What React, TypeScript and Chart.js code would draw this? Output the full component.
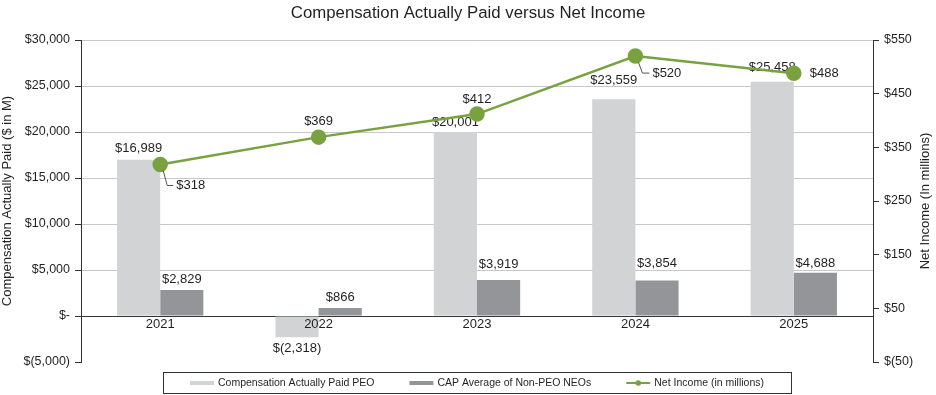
import { useEffect, useRef } from 'react';
import { Chart, registerables } from 'chart.js';

Chart.register(...registerables);

const categories = ['2021', '2022', '2023', '2024', '2025'];
const peoCap = [16989, -2318, 20001, 23559, 25458];
const neoCap = [2829, 866, 3919, 3854, 4688];
const netIncome = [318, 369, 412, 520, 488];

const leftMin = -5000;
const leftMax = 30000;
const leftStep = 5000;
const rightMin = -50;
const rightMax = 550;
const rightStep = 100;

const seriesNames = ['Compensation Actually Paid PEO', 'CAP Average of Non-PEO NEOs', 'Net Income (in millions)'];
const chartTitle = 'Compensation Actually Paid versus Net Income';
const leftTitle = 'Compensation Actually Paid ($ in M)';
const rightTitle = 'Net Income (In millions)';

// label placement tweaks (styling only)
const peoGap = [11, 11, 10, 19, 14];
const neoGap = [11, 11, 16, 17, 9];
const netPlace = [
  { dx: 16, dy: 21, align: 'left', leader: true },
  { dx: 0, dy: -16, align: 'center', leader: false },
  { dx: 0, dy: -15, align: 'center', leader: false },
  { dx: 17, dy: 17, align: 'left', leader: true },
  { dx: 16, dy: 0, align: 'left', leader: false },
];

const FONT = '"Liberation Sans", Arial, Helvetica, sans-serif';
const TEXT = '#231f20';
const PEO_COLOR = '#d1d3d4';
const NEO_COLOR = '#939598';
const GREEN = '#77a23f';

function fmt(v: number): string {
  if (v === 0) return '$-';
  if (v < 0) return '$(' + Math.abs(v).toLocaleString('en-US') + ')';
  return '$' + v.toLocaleString('en-US');
}

const overlayPlugin = {
  id: 'overlay',
  afterDatasetDraw(chart: any, args: any) {
    if (args.meta.type !== 'bar') return;
    const ds = chart.data.datasets[args.index];
    const gaps = args.index === 0 ? peoGap : neoGap;
    const ctx = chart.ctx;
    ctx.save();
    ctx.font = '13px ' + FONT;
    ctx.fillStyle = TEXT;
    ctx.textAlign = 'center';
    ctx.textBaseline = 'middle';
    args.meta.data.forEach((el: any, i: number) => {
      const v = ds.data[i];
      const ty = v >= 0 ? el.y - gaps[i] : el.y + gaps[i];
      ctx.fillText(fmt(v), el.x, ty);
    });
    ctx.restore();
  },
  afterDatasetsDraw(chart: any) {
    const ctx = chart.ctx;
    const meta = chart.getDatasetMeta(2);
    ctx.save();
    ctx.font = '13px ' + FONT;
    ctx.fillStyle = TEXT;
    ctx.textBaseline = 'middle';
    meta.data.forEach((el: any, i: number) => {
      const p = netPlace[i];
      const px = el.x;
      const py = el.y;
      if (p.leader) {
        ctx.beginPath();
        ctx.strokeStyle = '#555';
        ctx.lineWidth = 1;
        ctx.moveTo(px + 3, py + 6);
        ctx.lineTo(px + 7, py + p.dy);
        ctx.lineTo(px + p.dx - 3, py + p.dy);
        ctx.stroke();
      }
      ctx.textAlign = p.align as CanvasTextAlign;
      ctx.fillText(fmt(netIncome[i]), px + p.dx, py + p.dy);
    });
    ctx.restore();
  },
  afterDraw(chart: any) {
    const ctx = chart.ctx;
    const area = chart.chartArea;
    ctx.save();
    // title
    ctx.font = '16.8px ' + FONT;
    ctx.fillStyle = TEXT;
    ctx.textAlign = 'center';
    ctx.textBaseline = 'middle';
    ctx.fillText(chartTitle, (area.left + area.right) / 2 - 9, 13);

    // right axis title, reading bottom to top
    ctx.save();
    ctx.font = '13px ' + FONT;
    ctx.translate(chart.width - 11, (area.top + area.bottom) / 2);
    ctx.rotate(-Math.PI / 2);
    ctx.fillText(rightTitle, 0, 0);
    ctx.restore();

    // legend
    ctx.font = '10.5px ' + FONT;
    const padL = 27;
    const sw = 24;
    const gap = 4;
    const spacing = 35;
    const widths = seriesNames.map((n) => ctx.measureText(n).width);
    const total = padL * 2 + widths.reduce((a, b) => a + b, 0) + 3 * (sw + gap) + 2 * spacing;
    const cx = (area.left + area.right) / 2;
    const bx = Math.round(cx - total / 2);
    const by = 372;
    const bh = 21;
    ctx.strokeStyle = '#333';
    ctx.lineWidth = 1;
    ctx.strokeRect(bx + 0.5, by + 0.5, Math.round(total), bh);
    const cy = by + bh / 2 + 0.5;
    let x = bx + padL;
    const colors = [PEO_COLOR, NEO_COLOR, GREEN];
    seriesNames.forEach((n, i) => {
      if (i < 2) {
        ctx.fillStyle = colors[i];
        ctx.fillRect(x, cy - 2, sw, 4);
      } else {
        ctx.strokeStyle = GREEN;
        ctx.lineWidth = 2;
        ctx.beginPath();
        ctx.moveTo(x, cy);
        ctx.lineTo(x + sw, cy);
        ctx.stroke();
        ctx.fillStyle = GREEN;
        ctx.beginPath();
        ctx.arc(x + sw / 2, cy, 2.8, 0, Math.PI * 2);
        ctx.fill();
      }
      ctx.fillStyle = TEXT;
      ctx.textAlign = 'left';
      ctx.fillText(n, x + sw + gap, cy);
      x += sw + gap + widths[i] + spacing;
    });
    ctx.restore();
  },
};

export default function App() {
  const canvasRef = useRef<HTMLCanvasElement | null>(null);

  useEffect(() => {
    if (!canvasRef.current) return;
    const chart = new Chart(canvasRef.current, {
      type: 'bar',
      data: {
        labels: categories,
        datasets: [
          {
            type: 'bar',
            label: seriesNames[0],
            data: peoCap,
            backgroundColor: PEO_COLOR,
            yAxisID: 'y',
            categoryPercentage: 0.545,
            barPercentage: 1,
            order: 2,
          },
          {
            type: 'bar',
            label: seriesNames[1],
            data: neoCap,
            backgroundColor: NEO_COLOR,
            yAxisID: 'y',
            categoryPercentage: 0.545,
            barPercentage: 1,
            order: 2,
          },
          {
            type: 'line',
            label: seriesNames[2],
            data: netIncome,
            borderColor: GREEN,
            backgroundColor: GREEN,
            pointBackgroundColor: GREEN,
            pointBorderColor: GREEN,
            pointRadius: 6.5,
            borderWidth: 2.5,
            yAxisID: 'y1',
            order: 0,
          } as any,
        ],
      },
      options: {
        animation: false,
        responsive: false,
        maintainAspectRatio: false,
        layout: { padding: { top: 40, bottom: 33, left: 0, right: 0 } },
        plugins: {
          legend: { display: false },
          title: { display: false },
          tooltip: { enabled: false },
        },
        scales: {
          x: {
            type: 'category',
            position: { y: 0 } as any,
            grid: { display: false },
            border: { display: false },
            ticks: { color: TEXT, font: { size: 13, family: FONT }, padding: -7, z: 1 } as any,
          },
          y: {
            position: 'left',
            min: leftMin,
            max: leftMax,
            afterFit: (s: any) => {
              s.width = 81;
            },
            ticks: {
              stepSize: leftStep,
              color: TEXT,
              font: { size: 12.5, family: FONT },
              padding: 5,
              callback: (v: any) => fmt(Number(v)),
            },
            grid: {
              color: (c: any) =>
                c.tick && c.tick.value === 0 ? '#333' : c.tick && c.tick.value === leftMin ? 'rgba(0,0,0,0)' : '#c8c8c8',
              lineWidth: 1,
              tickColor: '#333',
              tickLength: 6,
            },
            border: { color: '#333', width: 1 },
            title: {
              display: true,
              text: leftTitle,
              color: TEXT,
              font: { size: 13, family: FONT },
              padding: { top: 0, bottom: 4 },
            },
          },
          y1: {
            position: 'right',
            min: rightMin,
            max: rightMax,
            afterFit: (s: any) => {
              s.width = 63;
            },
            ticks: {
              stepSize: rightStep,
              color: TEXT,
              font: { size: 12.5, family: FONT },
              padding: 5,
              callback: (v: any) => fmt(Number(v)),
            },
            grid: { drawOnChartArea: false, tickColor: '#333', tickLength: 6 },
            border: { color: '#333', width: 1 },
            title: { display: false },
          },
        },
      },
      plugins: [overlayPlugin],
    });
    return () => chart.destroy();
  }, []);

  return (
    <div style={{ position: 'fixed', left: 0, top: 0, width: 936, height: 395, background: '#fff' }}>
      <canvas ref={canvasRef} width={936} height={395} style={{ display: 'block', width: 936, height: 395 }} />
    </div>
  );
}
